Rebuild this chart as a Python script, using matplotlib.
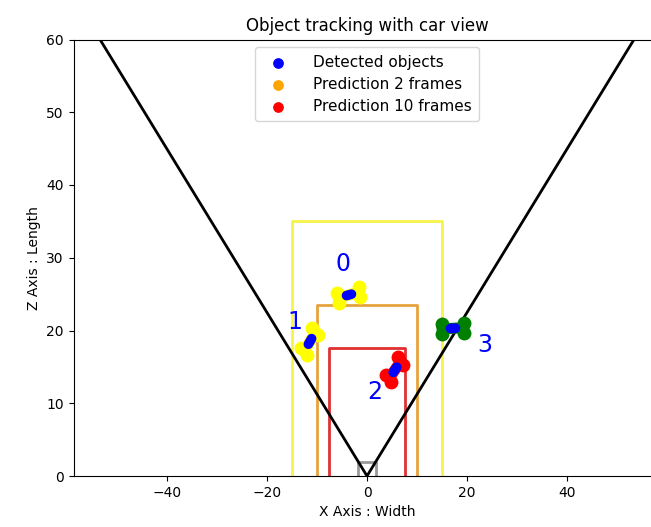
import numpy as np
import matplotlib
matplotlib.use("Agg")
import matplotlib.pyplot as plt

# Field of view edges (x at z=60)
fov_x_left = -53.4
fov_x_right = 53.4
fov_z = 60

# Zone rectangles: half-width, depth
zone_half_width = [15, 10, 7.6, 1.8]
zone_depth = [35, 23.5, 17.6, 1.9]
zone_colors = ["#f7f34a", "#e6a23c", "#e03030", "#999999"]

# Tracked objects
obj_ids = ["0", "1", "2", "3"]
obj_x = [-3.6, -11.4, 5.6, 17.2]
obj_z = [24.9, 18.5, 14.6, 20.3]
obj_heading = [11, 50, 45, 2]       # degrees
obj_length = [4.4, 3.6, 3.4, 4.4]
obj_colors = ["yellow", "yellow", "red", "green"]
label_x = [-4.8, -14.4, 1.6, 23.6]
label_z = [29.1, 21.2, 11.5, 18.0]

legend_labels = ["Detected objects", "Prediction 2 frames", "Prediction 10 frames"]
legend_colors = ["blue", "orange", "red"]

fig = plt.figure(figsize=(6.51, 5.27), dpi=100)
ax = fig.add_axes([73.5/651, (527-476)/527, (660.5-73.5)/651, (476-39.5)/527])

# FOV lines
ax.plot([fov_x_left, 0, fov_x_right], [fov_z, 0, fov_z], color="black", lw=2, zorder=2)

# zones
for hw, d, c in zip(zone_half_width, zone_depth, zone_colors):
    ax.plot([-hw, -hw, hw, hw], [0, d, d, 0], color=c, lw=2, zorder=1)

# objects
for i in range(len(obj_ids)):
    cx, cz, th, L, col = obj_x[i], obj_z[i], np.radians(obj_heading[i]), obj_length[i], obj_colors[i]
    ux, uz = np.cos(th), np.sin(th)
    px, pz = -uz, ux
    W = 0.7
    fx, fz = cx + ux*L/2, cz + uz*L/2
    rx, rz = cx - ux*L/2, cz - uz*L/2
    ax.plot([rx, fx], [rz, fz], color=col, lw=8, solid_capstyle="round", zorder=3)
    wx = [fx + px*W*1.3, fx - px*W*1.0, rx + px*W*1.3, rx - px*W*1.0]
    wz = [fz + pz*W, fz - pz*W, rz + pz*W, rz - pz*W]
    ax.plot(wx, wz, "o", color=col, ms=9, zorder=3)
    b = 0.5
    ax.plot([cx - ux*b, cx + ux*b], [cz - uz*b, cz + uz*b], color="blue", lw=7,
            solid_capstyle="round", zorder=4)
    ax.text(label_x[i], label_z[i], obj_ids[i], color="blue", fontsize=17,
            ha="center", va="center", zorder=5)

handles = [ax.scatter([], [], color=c, s=45, label=l) for c, l in zip(legend_colors, legend_labels)]
ax.legend(handles=handles, loc="upper center", bbox_to_anchor=(0.5, 1.0),
          fontsize=11, handletextpad=1.3, borderpad=0.5, labelspacing=0.45)

ax.set_xlim(-58.7, 58.7)
ax.set_ylim(0, 60)
ax.set_xticks([-40, -20, 0, 20, 40])
ax.set_yticks([0, 10, 20, 30, 40, 50, 60])
ax.tick_params(labelsize=10)
ax.set_title("Object tracking with car view", fontsize=12)
ax.set_xlabel("X Axis : Width", fontsize=10)
ax.set_ylabel("Z Axis : Length", fontsize=10)

fig.savefig("out.png", dpi=100)
